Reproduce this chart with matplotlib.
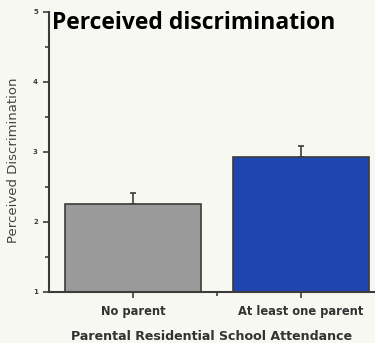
import matplotlib
matplotlib.use("Agg")
import matplotlib.pyplot as plt
from matplotlib.ticker import MultipleLocator

groups = ["No parent", "At least one parent"]
means = [2.26, 2.93]
errors = [0.15, 0.16]
bar_colors = ["#9a9a9a", "#1f45b1"]
y_ticks = [1, 2, 3, 4, 5]

BG = "#f8f8f3"
INK = "#3c3c3c"

fig = plt.figure(figsize=(3.75, 3.43), dpi=100, facecolor=BG)
ax = fig.add_axes([49 / 375, 1 - 292 / 343, 1 - 49 / 375, (292 - 12) / 343])
ax.set_facecolor(BG)

x = range(len(groups))
ax.bar(x, [m - 1 for m in means], bottom=1, width=0.81, color=bar_colors,
       edgecolor=INK, linewidth=1.2, zorder=2)
ax.errorbar(x, means, yerr=[[0, 0], errors], fmt="none", ecolor=INK,
            elinewidth=1.2, capsize=2.5, capthick=1.2, zorder=1)

ax.set_xlim(-0.5, 1.44)
ax.set_ylim(1, 5)
ax.set_yticks(y_ticks)
ax.set_yticklabels([str(t) for t in y_ticks], fontsize=5, fontweight="bold", color=INK)
ax.yaxis.set_minor_locator(MultipleLocator(0.5))
ax.set_xticks(list(x))
ax.set_xticklabels(groups, fontsize=8.3, fontweight="bold", color="#333333")
ax.set_xticks([0.5], minor=True)

ax.tick_params(axis="both", which="both", direction="out", color=INK, width=1.2)
ax.tick_params(axis="y", which="major", length=4, pad=4)
ax.tick_params(axis="y", which="minor", length=3)
ax.tick_params(axis="x", which="major", length=4, pad=5)
ax.tick_params(axis="x", which="minor", length=3)

for side in ["top", "right"]:
    ax.spines[side].set_visible(False)
for side in ["left", "bottom"]:
    ax.spines[side].set_color(INK)
    ax.spines[side].set_linewidth(1.5)

ax.set_xlabel("Parental Residential School Attendance", fontsize=9.1,
              fontweight="bold", color="#333333", labelpad=9)
ax.set_ylabel("Perceived Discrimination", fontsize=9.5, color="#444444")
ax.yaxis.set_label_coords(-0.089, 0.47)

fig.text(52 / 375, 1 - 23 / 343, "Perceived discrimination", fontsize=16.5,
         fontweight="bold", color="black", va="center", ha="left",
         family="Open Sans")

fig.savefig("out.png", dpi=100, facecolor=BG)
